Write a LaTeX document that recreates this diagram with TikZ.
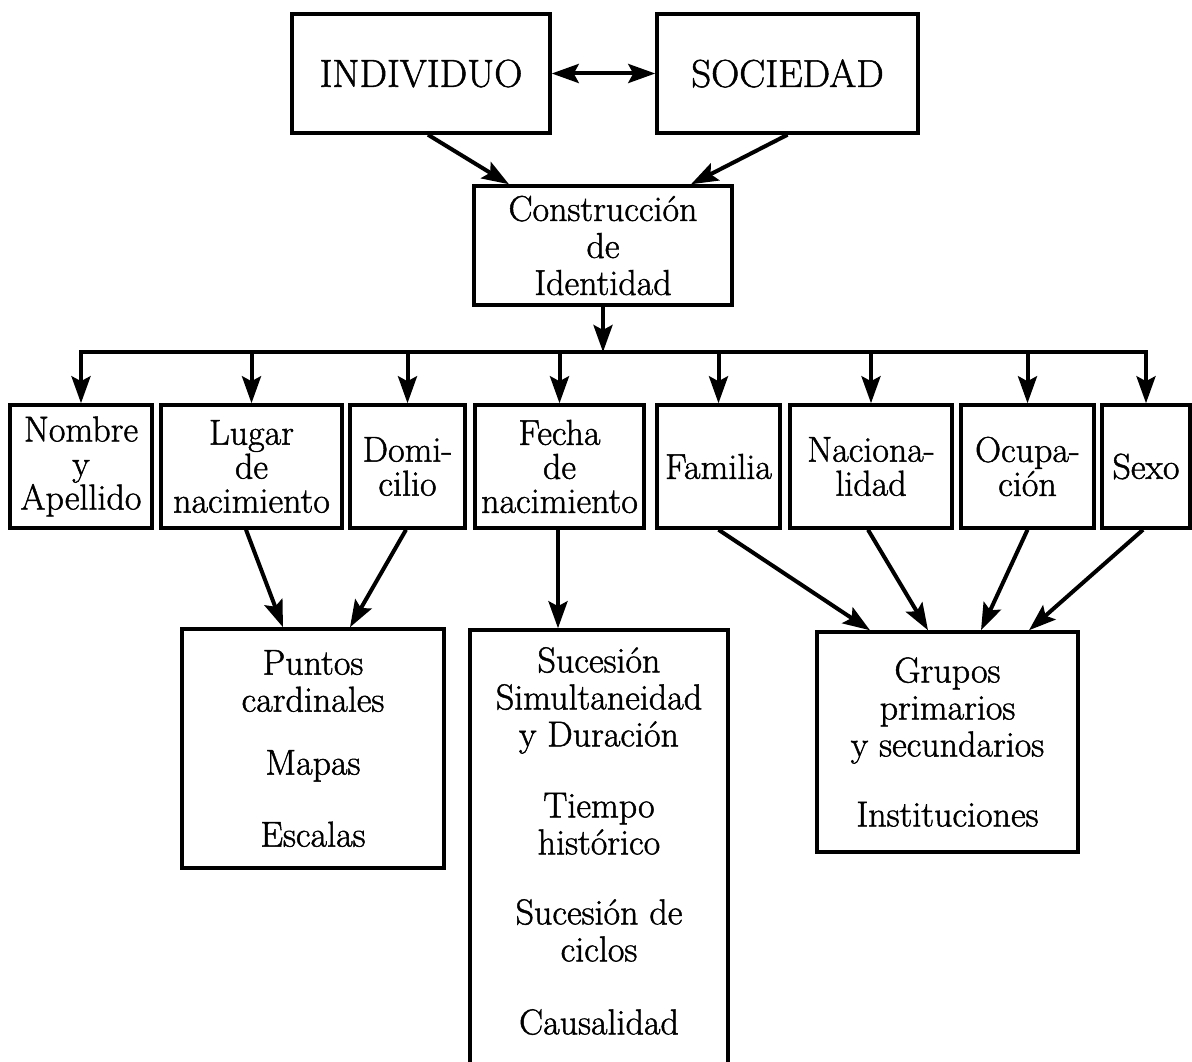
\documentclass[tikz,border=0pt]{standalone}
\usepackage{fontspec}
\setmainfont{Latin Modern Roman}[FakeBold=1.3]
\usetikzlibrary{arrows.meta}
\begin{document}
\begin{tikzpicture}[x=1pt,y=-1pt,
  box/.style={draw=black, line width=3.5pt, inner sep=0pt, align=center, font=\fontsize{36}{37}\selectfont},
  rowbox/.style={box, minimum height=123pt, font=\fontsize{36}{34}\selectfont},
  txt/.style={inner sep=0pt, align=center, font=\fontsize{36}{37}\selectfont},
  arr/.style={line width=4pt, -{Stealth[length=27pt,width=19pt,inset=5pt]}},
  darr/.style={line width=4pt, {Stealth[length=27pt,width=19pt,inset=5pt]}-{Stealth[length=27pt,width=19pt,inset=5pt]}},
  busline/.style={line width=4pt, line cap=rect}]
\useasboundingbox (0,0) rectangle (1192,1062);
\clip (0,0) rectangle (1192,1062);
% top
\node[box, minimum width=258pt, minimum height=119pt, font=\fontsize{39}{37}\selectfont] (ind) at (421,73.5) {INDIVIDUO};
\node[box, minimum width=261pt, minimum height=119pt, font=\fontsize{39}{37}\selectfont] (soc) at (787.5,73.5) {SOCIEDAD};
\draw[darr] (ind.east) -- (soc.west);
\node[box, minimum width=258pt, minimum height=119pt] (con) at (603,245.5) {Construcción\\de\\Identidad};
\draw[arr] ([xshift=7pt]ind.south) -- ([xshift=-94pt]con.north);
\draw[arr] (soc.south) -- ([xshift=88pt]con.north);
% row
\node[rowbox, minimum width=142pt] (nom) at (81,466.5) {Nombre\\y\\Apellido};
\node[rowbox, minimum width=181pt] (lug) at (251.5,466.5) {Lugar\\de\\nacimiento};
\node[rowbox, minimum width=115pt] (dom) at (407.5,466.5) {Domi-\\cilio};
\node[rowbox, minimum width=169pt] (fec) at (559.5,466.5) {Fecha\\de\\nacimiento};
\node[rowbox, minimum width=123pt] (fam) at (718.5,466.5) {Familia};
\node[rowbox, minimum width=162pt] (nac) at (871,466.5) {Naciona-\\lidad};
\node[rowbox, minimum width=133pt] (ocu) at (1027.5,466.5) {Ocupa-\\ción};
\node[rowbox, minimum width=88pt] (sex) at (1146,466.5) {Sexo};
\coordinate (bus) at (603,352);
\draw[arr] (con.south) -- (bus);
\draw[busline] (nom.north |- bus) -- (sex.north |- bus);
\foreach \n in {nom,lug,dom,fec,fam,nac,ocu,sex}
  \draw[arr] (\n.north |- bus) -- (\n.north);
% bottom
\node[box, minimum width=262pt, minimum height=239pt] (pun) at (313,748.5) {Puntos\\cardinales\\[26pt]Mapas\\[35pt]Escalas};
\node[box, minimum width=258pt, minimum height=460pt] (suc) at (599,860) {};
\node[txt, anchor=north] (suct) at (599,647) {Sucesión\\Simultaneidad\\y Duración\\[34pt]Tiempo\\histórico\\[33pt]Sucesión de\\ciclos\\[36pt]Causalidad};
\node[box, minimum width=261pt, minimum height=220pt] (gru) at (947.5,742) {Grupos\\primarios\\y secundarios\\[33pt]Instituciones};
\draw[arr] ([xshift=-5.5pt]lug.south) -- ([xshift=-30pt]pun.north);
\draw[arr] ([xshift=-1.5pt]dom.south) -- ([xshift=37pt]pun.north);
\draw[arr] ([xshift=-1.5pt]fec.south) -- ([xshift=-41pt]suc.north);
\draw[arr] (fam.south) -- ([xshift=-77.5pt]gru.north);
\draw[arr] ([xshift=-3pt]nac.south) -- ([xshift=-19.5pt]gru.north);
\draw[arr] (ocu.south) -- ([xshift=33.5pt]gru.north);
\draw[arr] ([xshift=-3pt]sex.south) -- ([xshift=81.5pt]gru.north);
\end{tikzpicture}
\end{document}
